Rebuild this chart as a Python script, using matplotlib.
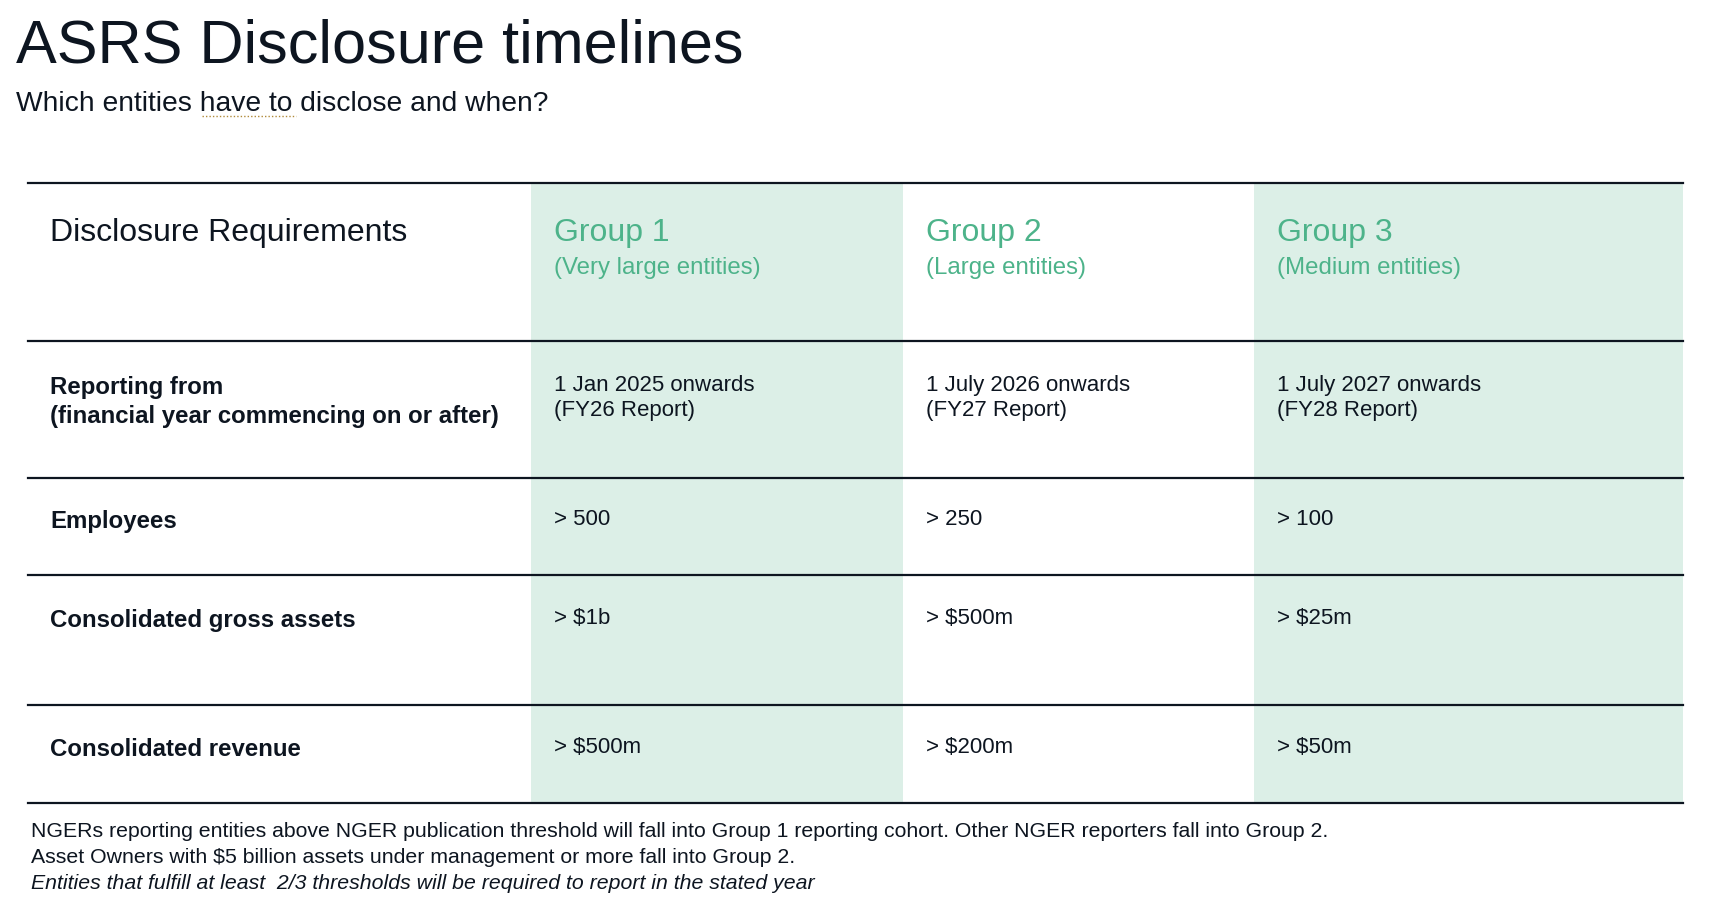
import matplotlib
matplotlib.use("Agg")
import matplotlib.pyplot as plt
from matplotlib.patches import Rectangle

plt.rcParams["font.family"] = "Liberation Sans"

title = "ASRS Disclosure timelines"
subtitle = "Which entities have to disclose and when?"
groups = ["Group 1", "Group 2", "Group 3"]
group_desc = ["(Very large entities)", "(Large entities)", "(Medium entities)"]
row_labels = ["Reporting from\n(financial year commencing on or after)", "Employees",
              "Consolidated gross assets", "Consolidated revenue"]
values = [
    ["1 Jan 2025 onwards\n(FY26 Report)", "1 July 2026 onwards\n(FY27 Report)", "1 July 2027 onwards\n(FY28 Report)"],
    ["> 500", "> 250", "> 100"],
    ["> $1b", "> $500m", "> $25m"],
    ["> $500m", "> $200m", "> $50m"],
]
notes = ["NGERs reporting entities above NGER publication threshold will fall into Group 1 reporting cohort. Other NGER reporters fall into Group 2.",
         "Asset Owners with $5 billion assets under management or more fall into Group 2."]
note_italic = "Entities that fulfill at least  2/3 thresholds will be required to report in the stated year"

W, H = 1710, 920
fig = plt.figure(figsize=(W/100, H/100), dpi=100)
ax = fig.add_axes([0, 0, 1, 1])
ax.set_xlim(0, W); ax.set_ylim(H, 0); ax.axis("off")

green = "#4db38a"; bg = "#dcefe7"; dark = "#0d1520"
colx = [28, 531, 903, 1254, 1683]
liney = [184, 342, 479, 576, 706, 804]

for i in (1, 3):
    ax.add_patch(Rectangle((colx[i], liney[0]), colx[i+1]-colx[i], liney[-1]-liney[0], color=bg, lw=0, zorder=0))
for y in liney:
    ax.plot([colx[0], colx[-1]], [y, y], color=dark, lw=1.6, zorder=2)

ax.text(16, 47, title, fontsize=44, color=dark, va="center")
ax.text(16, 104, subtitle, fontsize=20.3, color=dark, va="center")
ax.plot([202, 296], [117, 117], color="#b08a3a", lw=1, ls=(0, (1, 1.5)))

ax.text(50, 233, "Disclosure Requirements", fontsize=23, color=dark, va="center")
for i, (g, d) in enumerate(zip(groups, group_desc)):
    x = colx[i+1] + 23
    ax.text(x, 233, g, fontsize=23, color=green, va="center")
    ax.text(x, 268, d, fontsize=17.3, color=green, va="center")

rowy = [402, 522, 621, 750]
for r, (lab, vals) in enumerate(zip(row_labels, values)):
    ax.text(50, rowy[r], lab, fontsize=17.3, fontweight="bold", color=dark, va="center", linespacing=1.35)
    for i, v in enumerate(vals):
        vy = 398 if r == 0 else rowy[r] - 2
        ax.text(colx[i+1] + 23, vy, v, fontsize=16, color=dark, va="center", linespacing=1.3)

ax.text(31, 832, notes[0], fontsize=15.3, color=dark, va="center")
ax.text(31, 858, notes[1], fontsize=15.3, color=dark, va="center")
ax.text(31, 884, note_italic, fontsize=15.3, color=dark, va="center", style="italic")

fig.savefig("out.png", dpi=100, facecolor="white")
